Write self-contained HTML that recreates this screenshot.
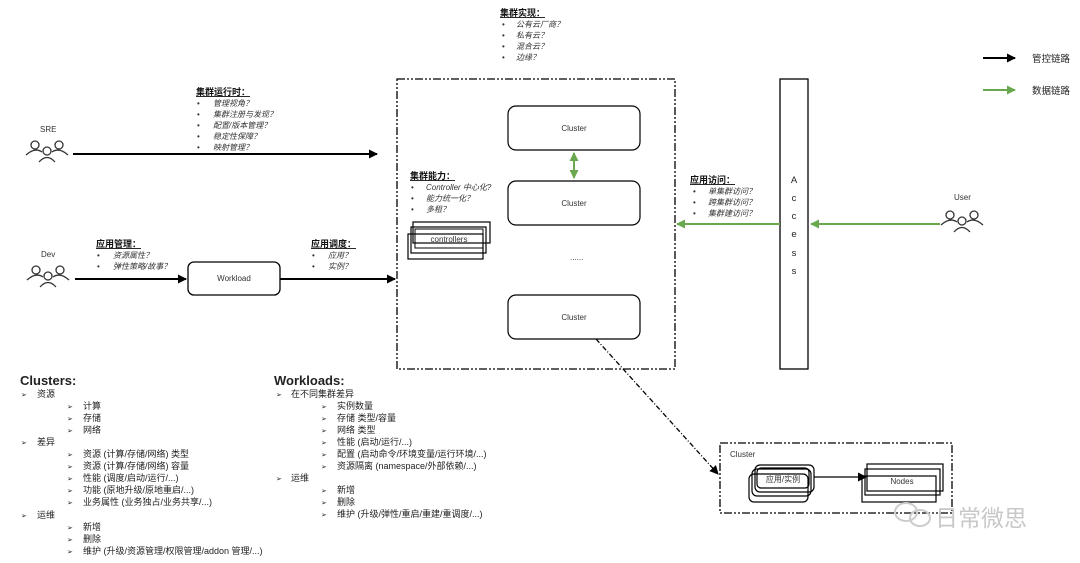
<!DOCTYPE html>
<html><head><meta charset="utf-8"><style>
body{margin:0;background:#fff;}
svg{display:block;font-family:"Liberation Sans","Noto Sans CJK SC",sans-serif;}
.t{font-size:8px;fill:#333;font-style:italic}
.h{font-size:9px;font-weight:bold;text-decoration:underline;fill:#111}
.b{font-size:8px;fill:#333}
.l{font-size:9.5px;fill:#222}
</style></head><body>
<svg width="1080" height="563" viewBox="0 0 1080 563" xmlns="http://www.w3.org/2000/svg">
<defs>
<marker id="ak" markerWidth="9" markerHeight="9" refX="8" refY="4.5" orient="auto" markerUnits="userSpaceOnUse"><path d="M0,0 L9,4.5 L0,9 z" fill="#000"/></marker>
<marker id="ag" markerWidth="9" markerHeight="9" refX="8" refY="4.5" orient="auto" markerUnits="userSpaceOnUse"><path d="M0,0 L9,4.5 L0,9 z" fill="#6aa84f"/></marker>
<marker id="ags" markerWidth="9" markerHeight="9" refX="1" refY="4.5" orient="auto" markerUnits="userSpaceOnUse"><path d="M9,0 L0,4.5 L9,9 z" fill="#6aa84f"/></marker>
<g id="ppl" fill="none" stroke="#333" stroke-width="1.3">
<circle cx="-12" cy="-7" r="4"/><path d="M-21,3 Q-12,-5 -5,0"/>
<circle cx="12" cy="-7" r="4"/><path d="M21,3 Q12,-5 5,0"/>
<circle cx="0" cy="-1" r="4"/><path d="M-8,10 Q0,1 8,10"/>
</g>
</defs>

<text x="500" y="16" class="h">集群实现：</text>
<g class="t"><text x="516" y="27">公有云厂商？</text><text x="516" y="38">私有云？</text><text x="516" y="49">混合云？</text><text x="516" y="60">边缘？</text></g>
<g class="b"><text x="502" y="27">•</text><text x="502" y="38">•</text><text x="502" y="49">•</text><text x="502" y="60">•</text></g>

<line x1="983" y1="58" x2="1015" y2="58" stroke="#000" stroke-width="2" marker-end="url(#ak)"/>
<text x="1032" y="62" class="l">管控链路</text>
<line x1="983" y1="90" x2="1015" y2="90" stroke="#6aa84f" stroke-width="2" marker-end="url(#ag)"/>
<text x="1032" y="94" class="l">数据链路</text>

<text x="40" y="132" class="b" font-size="9">SRE</text>
<use href="#ppl" x="47" y="152"/>
<line x1="73" y1="154" x2="377" y2="154" stroke="#000" stroke-width="2" marker-end="url(#ak)"/>
<text x="196" y="95" class="h">集群运行时：</text>
<g class="t"><text x="213" y="106">管理视角？</text><text x="213" y="117">集群注册与发现？</text><text x="213" y="128">配置/版本管理？</text><text x="213" y="139">稳定性保障？</text><text x="213" y="150">映射管理？</text></g>
<g class="b"><text x="197" y="106">•</text><text x="197" y="117">•</text><text x="197" y="128">•</text><text x="197" y="139">•</text><text x="197" y="150">•</text></g>

<text x="41" y="257" class="b" font-size="9">Dev</text>
<use href="#ppl" x="48" y="277"/>
<line x1="75" y1="279" x2="186" y2="279" stroke="#000" stroke-width="2" marker-end="url(#ak)"/>
<rect x="188" y="262" width="92" height="33" rx="6" fill="#fff" stroke="#000" stroke-width="1.3"/>
<text x="234" y="281" text-anchor="middle" class="b" font-size="9">Workload</text>
<line x1="280" y1="279" x2="395" y2="279" stroke="#000" stroke-width="2" marker-end="url(#ak)"/>
<text x="96" y="247" class="h">应用管理：</text>
<g class="t"><text x="113" y="258">资源属性？</text><text x="113" y="269">弹性策略/故事？</text></g>
<g class="b"><text x="97" y="258">•</text><text x="97" y="269">•</text></g>
<text x="311" y="247" class="h">应用调度：</text>
<g class="t"><text x="328" y="258">应用？</text><text x="328" y="269">实例？</text></g>
<g class="b"><text x="312" y="258">•</text><text x="312" y="269">•</text></g>

<rect x="397" y="79" width="278" height="290" fill="none" stroke="#000" stroke-width="1.3" stroke-dasharray="8,2,2,2,2,2"/>
<rect x="508" y="106" width="132" height="44" rx="8" fill="#fff" stroke="#000" stroke-width="1.2"/>
<text x="574" y="131" text-anchor="middle" class="b">Cluster</text>
<rect x="508" y="181" width="132" height="44" rx="8" fill="#fff" stroke="#000" stroke-width="1.2"/>
<text x="574" y="206" text-anchor="middle" class="b">Cluster</text>
<rect x="508" y="295" width="132" height="44" rx="8" fill="#fff" stroke="#000" stroke-width="1.2"/>
<text x="574" y="320" text-anchor="middle" class="b">Cluster</text>
<line x1="574" y1="153" x2="574" y2="178" stroke="#6aa84f" stroke-width="2" marker-start="url(#ags)" marker-end="url(#ag)"/>
<text x="570" y="260" class="b" font-size="6">......</text>
<text x="410" y="179" class="h">集群能力：</text>
<g class="t"><text x="426" y="190">Controller 中心化?</text><text x="426" y="201">能力统一化？</text><text x="426" y="212">多租？</text></g>
<g class="b"><text x="411" y="190">•</text><text x="411" y="201">•</text><text x="411" y="212">•</text></g>
<rect x="413" y="222" width="77" height="21" fill="none" stroke="#000" stroke-width="1.2"/>
<rect x="411" y="227" width="75" height="26" fill="none" stroke="#000" stroke-width="1.2"/>
<rect x="408" y="234" width="75" height="25" fill="none" stroke="#000" stroke-width="1.2"/>
<rect x="415" y="229" width="68" height="19" fill="none" stroke="#000" stroke-width="1"/>
<text x="449" y="242" text-anchor="middle" class="b" font-size="6">controllers</text>

<rect x="780" y="79" width="28" height="290" fill="#fff" stroke="#000" stroke-width="1.3"/>
<g class="l" font-size="12" text-anchor="middle"><text x="794" y="183">A</text><text x="794" y="201">c</text><text x="794" y="219">c</text><text x="794" y="237">e</text><text x="794" y="256">s</text><text x="794" y="274">s</text></g>
<line x1="940" y1="224" x2="811" y2="224" stroke="#6aa84f" stroke-width="2" marker-end="url(#ag)"/>
<line x1="780" y1="224" x2="677" y2="224" stroke="#6aa84f" stroke-width="2" marker-end="url(#ag)"/>
<text x="690" y="183" class="h">应用访问：</text>
<g class="t"><text x="708" y="194">单集群访问？</text><text x="708" y="205">跨集群访问？</text><text x="708" y="216">集群建访问？</text></g>
<g class="b"><text x="693" y="194">•</text><text x="693" y="205">•</text><text x="693" y="216">•</text></g>
<text x="954" y="200" class="b">User</text>
<use href="#ppl" x="962" y="222"/>

<line x1="596" y1="339" x2="718" y2="474" stroke="#000" stroke-width="1.3" stroke-dasharray="5,2,1,2" marker-end="url(#ak)"/>

<rect x="720" y="443" width="232" height="70" fill="none" stroke="#000" stroke-width="1.3" stroke-dasharray="8,2,2,2,2,2"/>
<text x="730" y="457" class="b">Cluster</text>
<rect x="755" y="465" width="59" height="27" rx="5" fill="none" stroke="#000" stroke-width="1.2"/>
<rect x="752" y="469" width="59" height="27" rx="5" fill="none" stroke="#000" stroke-width="1.2"/>
<rect x="749" y="474" width="59" height="28" rx="5" fill="none" stroke="#000" stroke-width="1.2"/>
<rect x="757" y="468" width="52" height="20" rx="4" fill="none" stroke="#000" stroke-width="1.2"/>
<text x="783" y="482" text-anchor="middle" class="b" font-size="6.5">应用/实例</text>
<line x1="814" y1="477" x2="866" y2="477" stroke="#000" stroke-width="1.2" marker-end="url(#ak)"/>
<rect x="867" y="464" width="76" height="27" fill="none" stroke="#000" stroke-width="1.2"/>
<rect x="865" y="469" width="75" height="26" fill="none" stroke="#000" stroke-width="1.2"/>
<rect x="862" y="476" width="74" height="26" fill="none" stroke="#000" stroke-width="1.2"/>
<text x="902" y="484" text-anchor="middle" class="b" font-size="6">Nodes</text>
<g fill="none" stroke="#ccc" stroke-width="2"><ellipse cx="906" cy="512" rx="11" ry="9"/><ellipse cx="920" cy="518" rx="10" ry="8"/></g>
<text x="935" y="526" font-size="23" fill="#c8c8c8">日常微思</text>

<g font-size="9" fill="#222">
<text x="20" y="385" font-size="13" font-weight="bold">Clusters:</text>
<g font-size="7"><text x="21" y="397">➢</text><text x="21" y="445">➢</text><text x="21" y="518">➢</text>
<text x="67" y="409">➢</text><text x="67" y="421">➢</text><text x="67" y="433">➢</text><text x="67" y="457">➢</text><text x="67" y="469">➢</text><text x="67" y="481">➢</text><text x="67" y="493">➢</text><text x="67" y="505">➢</text><text x="67" y="530">➢</text><text x="67" y="542">➢</text><text x="67" y="554">➢</text></g>
<text x="37" y="397">资源</text><text x="83" y="409">计算</text><text x="83" y="421">存储</text><text x="83" y="433">网络</text>
<text x="37" y="445">差异</text>
<text x="83" y="457">资源 (计算/存储/网络) 类型</text><text x="83" y="469">资源 (计算/存储/网络) 容量</text><text x="83" y="481">性能 (调度/启动/运行/...)</text><text x="83" y="493">功能 (原地升级/原地重启/...)</text><text x="83" y="505">业务属性 (业务独占/业务共享/...)</text>
<text x="37" y="518">运维</text><text x="83" y="530">新增</text><text x="83" y="542">删除</text><text x="83" y="554">维护 (升级/资源管理/权限管理/addon 管理/...)</text>

<text x="274" y="385" font-size="13" font-weight="bold">Workloads:</text>
<g font-size="7"><text x="276" y="397">➢</text><text x="276" y="481">➢</text>
<text x="321" y="409">➢</text><text x="321" y="421">➢</text><text x="321" y="433">➢</text><text x="321" y="445">➢</text><text x="321" y="457">➢</text><text x="321" y="469">➢</text><text x="321" y="493">➢</text><text x="321" y="505">➢</text><text x="321" y="517">➢</text></g>
<text x="291" y="397">在不同集群差异</text>
<text x="337" y="409">实例数量</text><text x="337" y="421">存储 类型/容量</text><text x="337" y="433">网络 类型</text><text x="337" y="445">性能 (启动/运行/...)</text><text x="337" y="457">配置 (启动命令/环境变量/运行环境/...)</text><text x="337" y="469">资源隔离 (namespace/外部依赖/...)</text>
<text x="291" y="481">运维</text>
<text x="337" y="493">新增</text><text x="337" y="505">删除</text><text x="337" y="517">维护 (升级/弹性/重启/重建/重调度/...)</text>
</g>
</svg>
</body></html>
